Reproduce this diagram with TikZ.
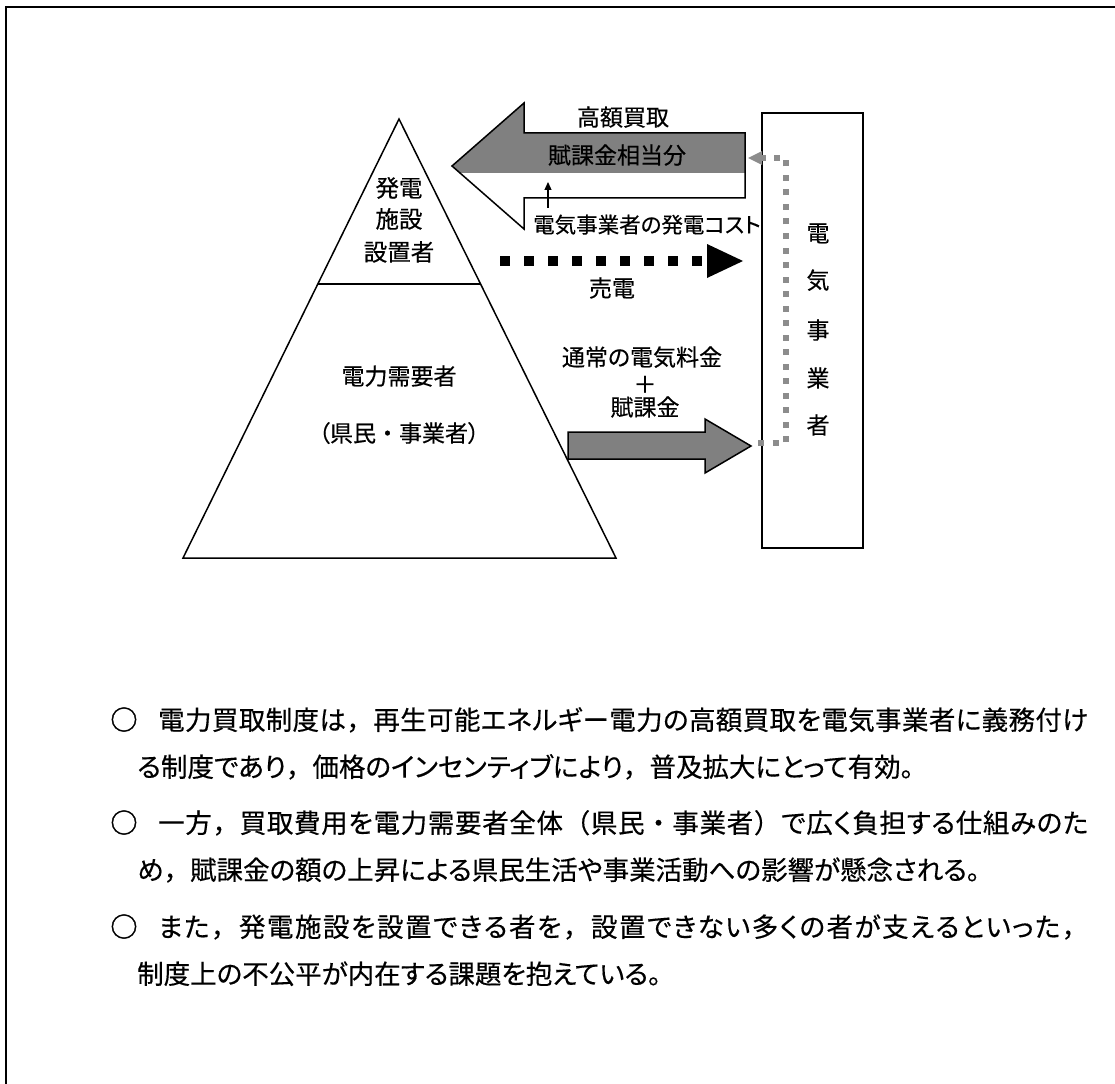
\documentclass[tikz,border=0pt]{standalone}
\usepackage{fontspec}
\setmainfont{Noto Sans CJK JP}[RawFeature=+palt, FakeBold=0.4]
\newfontfamily\jpfw{Noto Sans CJK JP}[FakeBold=0.4]
\newfontfamily\jpbul{Noto Sans CJK JP}[FakeBold=1.6]
\usetikzlibrary{arrows.meta}
\definecolor{arrgray}{RGB}{128,128,128}
\definecolor{dotgray}{RGB}{140,140,140}
\newcommand\FC{\mbox{\jpfw ，}}
\newcommand\FM{\mbox{\jpfw ・}}
\newcommand\FL{\mbox{\jpfw （}}
\newcommand\FR{\mbox{\jpfw ）}}
\newcommand\FP{\mbox{\jpfw 。}}
\makeatletter
\def\spr@first#1{#1\spr@next}
\def\spr@next#1{\ifx#1\spr@end\else\hskip 0pt plus 1fil\relax#1\expandafter\spr@next\fi}
\def\spr@end{\spr@end}
\newcommand\spreadline[2]{\hbox to #1{\spr@first#2\spr@end}}
\makeatother
\tikzset{
  txt/.style={inner sep=0pt, text height=0.88em, text depth=0.12em},
  lbl/.style={txt, font=\fontsize{23pt}{28pt}\selectfont},
  toplbl/.style={txt, font=\fontsize{23.5pt}{28pt}\selectfont},
  body/.style={txt, anchor=west, font=\fontsize{26.5pt}{30pt}\selectfont},
  bullet/.style={txt, anchor=center, font=\fontsize{27pt}{30pt}\jpbul},
  outline/.style={line width=1.5pt, line join=miter},
}
\begin{document}
\begin{tikzpicture}[x=1pt,y=-1pt]
\useasboundingbox (0,0) rectangle (1115,1083);
% outer frame (open to right and bottom)
\draw[line width=2pt] (6,1090) -- (6,7) -- (1120,7);

% pyramid
\coordinate (apex) at (399,119);
\coordinate (bl) at (183,558);
\coordinate (br) at (616,558);
\draw[outline] (apex) -- (bl) -- (br) -- cycle;
\coordinate (sl) at (318,284);
\coordinate (sr) at (480,284);
\draw[outline] (sl) -- (sr);

\node[toplbl] (gen1) at (399,193) {発電};
\node[toplbl] (gen2) at (399,224) {施設};
\node[toplbl] (gen3) at (399,257) {設置者};
\node[lbl] (dem1) at (399,381) {電力需要者};
\node[lbl] (dem2) at (399,438) {（県民\FM 事業者）};

% utility box
\node[draw, line width=1.5pt, minimum width=101pt, minimum height=435pt, inner sep=0pt] (util) at (812.5,330.5) {};
\node[lbl] (u1) at (818,238) {電};
\node[lbl] (u2) at (818,285) {気};
\node[lbl] (u3) at (818,335) {事};
\node[lbl] (u4) at (818,383) {業};
\node[lbl] (u5) at (818,430) {者};

% big left arrow (purchase)
\fill[arrgray] (452,166) -- (524,103) -- (524,133) -- (745,133) -- (745,173) -- (460,173) -- cycle;
\draw[outline] (452,166) -- (524,103) -- (524,133) -- (745,133) -- (745,198) -- (524,198) -- (524,229) -- cycle;
\node[lbl] (high) at (623,122) {高額買取};
\node[lbl] (levyshare) at (617,160) {賦課金相当分};
\node[txt, anchor=west, font=\fontsize{21.5pt}{26pt}\selectfont] (cost) at (533,229) {電気事業者の発電コスト};
\coordinate (sa1) at (548,208);
\coordinate (sa2) at (548,182);
\draw[line width=1.2pt, -{Triangle[length=8pt,width=7pt]}] (sa1) -- (sa2);

% dotted black arrow (sale of power)
\coordinate (d1) at (500,261);
\coordinate (d2) at (707,261);
\draw[line width=9.5pt, dash pattern=on 9.5pt off 14.5pt] (d1) -- (d2);
\fill (707,244) -- (743,261) -- (707,278) -- cycle;
\node[lbl] (sale) at (612,293) {売電};

% right arrow (payment)
\draw[outline, fill=arrgray] (568,432) -- (705,432) -- (705,419) -- (751,446) -- (705,473) -- (705,459) -- (568,459) -- cycle;
\node[lbl] (pay1) at (642,362) {通常の電気料金};
\node[lbl] (pay2) at (645,389) {＋};
\node[lbl] (pay3) at (645,412) {賦課金};

% gray dotted return path
\coordinate (g1) at (758,443);
\coordinate (g2) at (786,443);
\coordinate (g3) at (786,158);
\coordinate (g4) at (762,158);
\draw[dotgray, line width=6pt, dash pattern=on 6pt off 8.5pt] (g1) -- (g2) -- (g3) -- (g4);
\fill[dotgray] (762,151) -- (748,158) -- (762,165) -- cycle;

% body text
\node[bullet] (b1) at (124,726) {○};
\node[body] (l1) at (158,726) {\spreadline{930pt}{電力買取制度は\FC 再生可能エネルギー電力の高額買取を電気事業者に義務付け}};
\node[body] (l2) at (137,773) {る制度であり\FC 価格のインセンティブにより\FC 普及拡大にとって有効\FP};
\node[bullet] (b2) at (124,829) {○};
\node[body] (l3) at (158,829) {\spreadline{930pt}{一方\FC 買取費用を電力需要者全体\FL 県民\FM 事業者\FR で広く負担する仕組みのた}};
\node[body] (l4) at (137,876) {め\FC 賦課金の額の上昇による県民生活や事業活動への影響が懸念される\FP};
\node[bullet] (b3) at (124,933) {○};
\node[body] (l5) at (158,933) {\spreadline{930pt}{また\FC 発電施設を設置できる者を\FC 設置できない多くの者が支えるといった\FC}};
\node[body] (l6) at (137,980) {制度上の不公平が内在する課題を抱えている\FP};
\end{tikzpicture}
\end{document}
